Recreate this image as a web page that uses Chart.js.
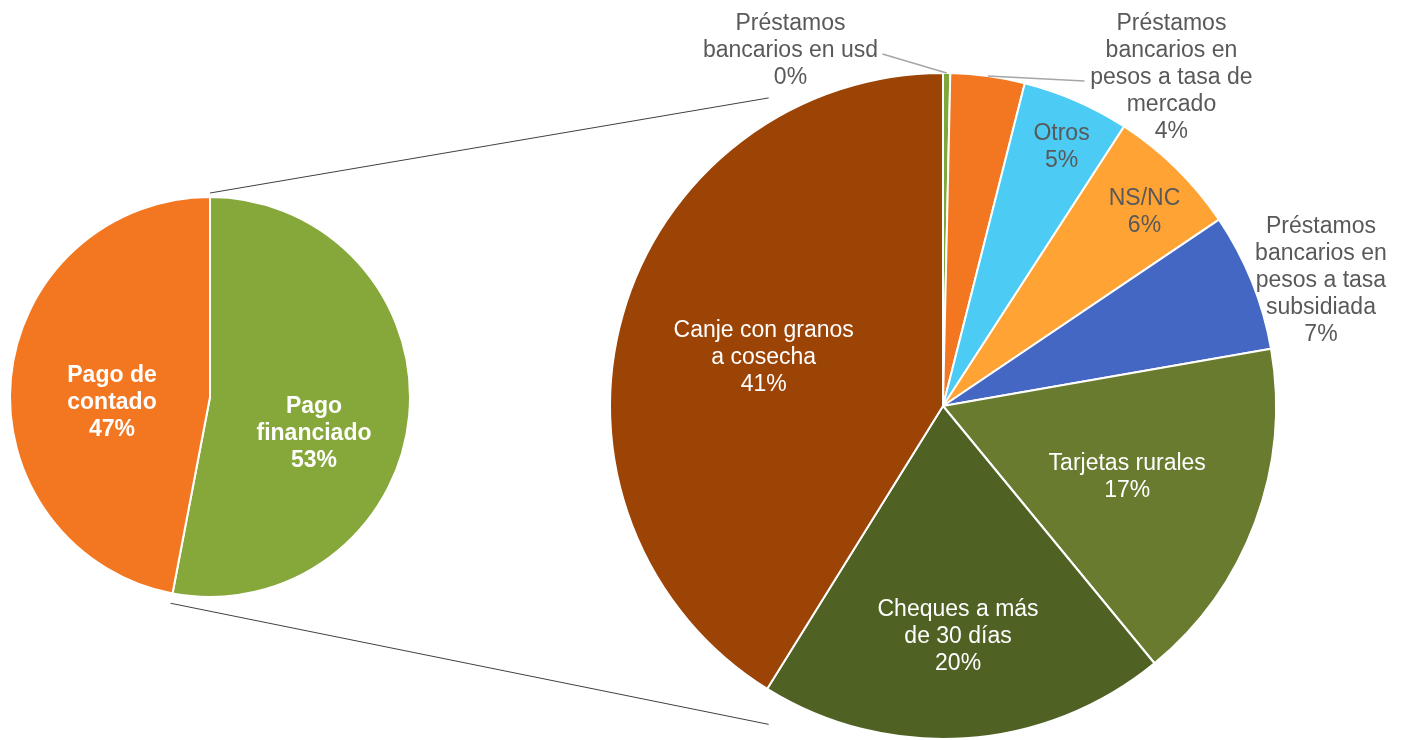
<!DOCTYPE html>
<html>
<head>
<meta charset="utf-8">
<script src="https://cdn.jsdelivr.net/npm/chart.js@4/dist/chart.umd.min.js"></script>
<style>
  body{margin:0;background:#fff;}
  #wrap{position:relative;width:1407px;height:740px;}
  canvas{position:absolute;left:0;top:0;}
</style>
</head>
<body>
<div id="wrap">
  <canvas id="leftPie" width="1407" height="740"></canvas>
  <canvas id="rightPie" width="1407" height="740"></canvas>
</div>
<script>
// main split
const mainLabels = [["Pago", "financiado"], ["Pago de", "contado"]];
const mainValues = [53, 47];
const mainColors = ["#86A73A", "#F37721"];

// breakdown of "Pago financiado", clockwise from the top
const detailLabels = [
  ["Préstamos", "bancarios en usd"],
  ["Préstamos", "bancarios en", "pesos a tasa de", "mercado"],
  ["Otros"],
  ["NS/NC"],
  ["Préstamos", "bancarios en", "pesos a tasa", "subsidiada"],
  ["Tarjetas rurales"],
  ["Cheques a más", "de 30 días"],
  ["Canje con granos", "a cosecha"]
];
const detailValues = [0.35, 3.6, 5.2, 6.4, 6.7, 16.8, 19.8, 41.15];
const detailColors = ["#7EA83A", "#F37721", "#4CCBF5", "#FFA335", "#4467C4", "#687B2E", "#4F6224", "#9C4306"];

// label placement: r = fraction of radius on mid angle, or ox/oy = offset from centre in radii
const mainLabelPos = [
  {ox: 0.52, oy: 0.17, color: "#fff", bold: true},
  {ox: -0.49, oy: 0.015, color: "#fff", bold: true}
];
const detailLabelPos = [
  {ox: -0.458, oy: -1.075, color: "#595959", lead: [92, 6]},
  {ox: 0.686, oy: -0.994, color: "#595959", lead: [-87, 6]},
  {ox: 0.356, oy: -0.785, color: "#595959"},
  {ox: 0.605, oy: -0.59, color: "#595959"},
  {ox: 1.135, oy: -0.383, color: "#595959"},
  {r: 0.59, color: "#fff"},
  {r: 0.686, color: "#fff"},
  {r: 0.56, color: "#fff"}
];

function labelPlugin(posList){
  return {
    id: "sliceLabels",
    afterDraw(chart){
      const ctx = chart.ctx;
      const meta = chart.getDatasetMeta(0);
      const vals = chart.data.datasets[0].data;
      meta.data.forEach((arc, i) => {
        const p = posList[i];
        const r = arc.outerRadius;
        const mid = (arc.startAngle + arc.endAngle) / 2;
        let cx, cy;
        if (p.r !== undefined) {
          cx = arc.x + Math.cos(mid) * r * p.r;
          cy = arc.y + Math.sin(mid) * r * p.r;
        } else {
          cx = arc.x + p.ox * r;
          cy = arc.y + p.oy * r;
        }
        const lines = chart.data.labels[i].concat([Math.round(vals[i]) + "%"]);
        const lh = 27;
        ctx.save();
        if (p.lead) {
          ctx.strokeStyle = "#A6A6A6";
          ctx.lineWidth = 1.5;
          ctx.beginPath();
          ctx.moveTo(cx + p.lead[0], cy + p.lead[1]);
          ctx.lineTo(arc.x + Math.cos(mid) * r, arc.y + Math.sin(mid) * r);
          ctx.stroke();
        }
        ctx.fillStyle = p.color;
        ctx.font = (p.bold ? "bold " : "") + "23px 'Liberation Sans', Arial, sans-serif";
        ctx.textAlign = "center";
        ctx.textBaseline = "middle";
        const y0 = cy + 2.5 - (lines.length - 1) * lh / 2;
        lines.forEach((t, k) => ctx.fillText(t, cx, y0 + k * lh));
        ctx.restore();
      });
    }
  };
}

const leftChart = new Chart(document.getElementById("leftPie"), {
  type: "pie",
  data: {
    labels: mainLabels,
    datasets: [{
      data: mainValues,
      backgroundColor: mainColors,
      borderColor: "#fff",
      borderWidth: 2
    }]
  },
  options: {
    responsive: false,
    animation: false,
    layout: {padding: {left: 9, right: 996, top: 196, bottom: 142}},
    plugins: {legend: {display: false}, tooltip: {enabled: false}}
  },
  plugins: [labelPlugin(mainLabelPos)]
});

// lines joining the financed slice to the breakdown pie
const connectorPlugin = {
  id: "connectors",
  afterDraw(chart){
    const ctx = chart.ctx;
    const src = leftChart.getDatasetMeta(0).data[0];
    const dst = chart.getDatasetMeta(0).data[0];
    const R = dst.outerRadius;
    const a1 = -Math.PI / 2 - 29.5 * Math.PI / 180;
    const a2 = Math.PI / 2 + 28.7 * Math.PI / 180;
    ctx.save();
    ctx.strokeStyle = "#404040";
    ctx.lineWidth = 1;
    ctx.beginPath();
    ctx.moveTo(src.x + Math.cos(src.startAngle) * src.outerRadius * 1.02,
               src.y + Math.sin(src.startAngle) * src.outerRadius * 1.02);
    ctx.lineTo(dst.x + Math.cos(a1) * R * 1.063, dst.y + Math.sin(a1) * R * 1.063);
    ctx.moveTo(src.x + Math.cos(src.endAngle) * src.outerRadius * 1.05,
               src.y + Math.sin(src.endAngle) * src.outerRadius * 1.05);
    ctx.lineTo(dst.x + Math.cos(a2) * R * 1.09, dst.y + Math.sin(a2) * R * 1.09);
    ctx.stroke();
    ctx.restore();
  }
};

const rightChart = new Chart(document.getElementById("rightPie"), {
  type: "pie",
  data: {
    labels: detailLabels,
    datasets: [{
      data: detailValues,
      backgroundColor: detailColors,
      borderColor: "#fff",
      borderWidth: 2
    }]
  },
  options: {
    responsive: false,
    animation: false,
    layout: {padding: {left: 609, right: 130, top: 72, bottom: 0}},
    plugins: {legend: {display: false}, tooltip: {enabled: false}}
  },
  plugins: [connectorPlugin, labelPlugin(detailLabelPos)]
});
</script>
</body>
</html>
